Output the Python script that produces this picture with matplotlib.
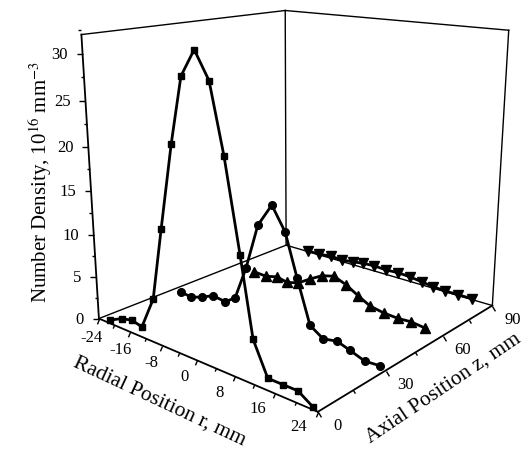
import numpy as np
import matplotlib
matplotlib.use('Agg')
import matplotlib.pyplot as plt
from matplotlib.path import Path

plt.rcParams['font.family'] = ['Liberation Serif', 'DejaVu Serif']
plt.rcParams['mathtext.fontset'] = 'stix'

# Radial profiles of number density (10^16 mm^-3) at four axial stations (mm)
z_stations = [0, 30, 60, 90]

r_z0 = [-21.0, -17.8, -15.2, -12.8, -9.7, -7.1, -4.1, -1.5, 1.4, 4.2, 6.8, 9.6, 11.9, 14.7, 17.6, 20.4, 23.1]
n_z0 = [0.4, 1.2, 1.5, 1.2, 5.0, 13.2, 22.4, 29.3, 32.0, 29.3, 22.4, 13.0, 4.8, 1.3, 1.3, 1.3, 0.3]

r_z30 = [-21.0, -18.4, -15.6, -12.8, -9.8, -7.4, -4.7, -1.9, 1.2, 4.0, 6.5, 9.2, 11.9, 14.7, 17.2, 20.1, 23.0]
n_z30 = [0.4, 0.2, 0.7, 1.4, 1.2, 2.1, 6.2, 11.6, 14.3, 11.7, 6.9, 2.0, 1.0, 1.3, 0.8, 0.2, 0.3]

r_z60 = [-18.1, -15.0, -12.2, -9.7, -7.0, -4.2, -1.4, 1.3, 4.0, 6.7, 9.3, 12.2, 15.1, 17.7, 20.5]
n_z60 = [0.3, 0.2, 0.6, 0.3, 0.7, 1.7, 2.6, 3.0, 2.4, 1.5, 0.7, 0.4, 0.3, 0.4, 0.2]

r_z90 = [-18.1, -15.2, -12.1, -9.4, -6.7, -4.2, -1.6, 1.2, 4.0, 6.7, 9.3, 11.7, 14.3, 17.0, 19.9]
n_z90 = [0.1, 0.1, 0.3, 0.2, 0.4, 0.6, 0.7, 0.6, 0.7, 0.6, 0.4, 0.2, 0.1, 0.1, 0.1]

r_ticks = [-24, -16, -8, 0, 8, 16, 24]
z_ticks = [0, 30, 60, 90]
n_ticks = [0, 5, 10, 15, 20, 25, 30]

R_LIM = (-24, 24)
Z_LIM = (0, 90)
N_LIM = (0, 32)

W, H = 525, 456
fig = plt.figure(figsize=(W / 100, H / 100), dpi=100)
ax = fig.add_axes([0.0916, 0.0578, 0.93, 1.0707], projection='3d')
ax.set_xlim(*R_LIM)
ax.set_ylim(*Z_LIM)
ax.set_zlim(*N_LIM)
ax.view_init(elev=15.75, azim=-49.54, roll=0)
ax.set_proj_type('persp', focal_length=0.361)
ax.set_box_aspect((0.996, 1, 0.996))
ax.set_axis_off()

r0, r1 = R_LIM
z0, z1 = Z_LIM
n0, n1 = N_LIM

# floor, left wall and back wall outlines
axis_edges = [((r0, z0, n0), (r1, z0, n0)),
              ((r1, z0, n0), (r1, z1, n0)),
              ((r0, z0, n0), (r0, z0, n1))]
wall_edges = [((r1, z1, n0), (r0, z1, n0)),
              ((r0, z1, n0), (r0, z0, n0)),
              ((r0, z1, n0), (r0, z1, n1)),
              ((r1, z1, n0), (r1, z1, n1)),
              ((r0, z0, n1), (r0, z1, n1)),
              ((r0, z1, n1), (r1, z1, n1))]
for p, q in axis_edges:
    ax.plot(*zip(p, q), color='black', lw=1.3)
for p, q in wall_edges:
    ax.plot(*zip(p, q), color='black', lw=1.0)

# tick marks
tick_left = Path([[0, 0], [-1, 0]])
tick_r = Path([[0, 0], [-0.39, -0.92]])
tick_z = Path([[0, 0], [0.52, -0.85]])
tick_kw = dict(ls='none', mec='black', mfc='none', mew=1.0)

n_minor = [v + 2.5 for v in n_ticks]
ax.plot([r0] * len(n_ticks), [z0] * len(n_ticks), n_ticks, marker=tick_left, ms=8, **tick_kw)
ax.plot([r0] * len(n_minor), [z0] * len(n_minor), n_minor, marker=tick_left, ms=5, **tick_kw)

r_minor = [v + 4 for v in r_ticks[:-1]]
ax.plot(r_ticks, [z0] * len(r_ticks), [n0] * len(r_ticks), marker=tick_r, ms=7, **tick_kw)
ax.plot(r_minor, [z0] * len(r_minor), [n0] * len(r_minor), marker=tick_r, ms=4.5, **tick_kw)

z_minor = [v + 15 for v in z_ticks[:-1]]
ax.plot([r1] * len(z_ticks), z_ticks, [n0] * len(z_ticks), marker=tick_z, ms=7, **tick_kw)
ax.plot([r1] * len(z_minor), z_minor, [n0] * len(z_minor), marker=tick_z, ms=4.5, **tick_kw)

# data series
series = [(r_z0, n_z0, 's', 4.5),
          (r_z30, n_z30, 'o', 5.5),
          (r_z60, n_z60, '^', 7.5),
          (r_z90, n_z90, 'v', 7.5)]
for z, (r, n, mk, ms) in zip(z_stations, series):
    ax.plot(r, [z] * len(r), n, color='black', lw=2.0, marker=mk, ms=ms,
            mfc='black', mec='black')

# tick labels: place them beside the projected tick positions
fig.canvas.draw()
M = ax.get_proj()


def screen(x, y, z):
    v = M @ np.array([x, y, z, 1.0])
    return ax.transData.transform((v[0] / v[3], v[1] / v[3]))


def label(x, y, z, s, dx, dy, ha='center'):
    px, py = screen(x, y, z)
    fig.text((px + dx) / W, (py + dy) / H, s, ha=ha, va='center', fontsize=12)


for v in n_ticks:
    label(r0, z0, v, f"{v}", -15, 0, ha='right')
for v in r_ticks:
    f = (v - r0) / (r1 - r0)
    label(v, z0, n0, f"{v}", -7 - 12 * f, -18 + 4 * f)
for v in z_ticks:
    label(r1, v, n0, f"{v}", 20, -13)

# axis titles
fig.text(40 / W, 1 - 182 / H, "Number Density, 10$^{16}$ mm$^{-3}$",
         rotation=90, ha='center', va='center', fontsize=15)
fig.text(160 / W, 1 - 402 / H, "Radial Position r, mm",
         rotation=-25, ha='center', va='center', rotation_mode='anchor', fontsize=15.5)
fig.text(443 / W, 1 - 388 / H, "Axial Position z, mm",
         rotation=34, ha='center', va='center', rotation_mode='anchor', fontsize=15.5)

fig.savefig('out.png', dpi=100)
